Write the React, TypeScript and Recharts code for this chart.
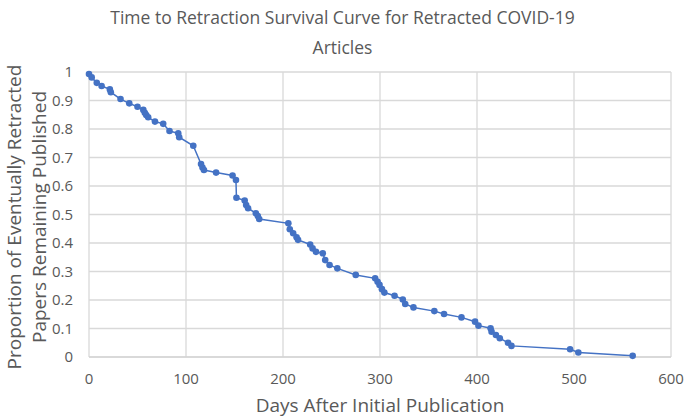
import React from 'react';
import { LineChart, Line, XAxis, YAxis, CartesianGrid } from 'recharts';

// days after publication at retraction
const days = [
  0, 2.8, 8, 13, 21.5, 22.5, 32.5, 41.5, 50, 56, 57.5, 59, 61, 68, 76.5, 83, 92, 93,
  107.5, 115.5, 117, 118.5, 131, 148, 151.5, 152, 160.5, 162, 164, 172, 174, 175.5,
  205.5, 207, 210.5, 214, 215.5, 228, 230.5, 234, 241, 243.5, 248, 256, 275,
  295, 297.5, 299.5, 302, 304.5, 315, 323.5, 326, 334.5, 356, 366, 384, 398, 401.5,
  414, 415, 419.5, 423.5, 432, 435.5, 496, 504.5, 560.5,
];

// proportion still published
const remaining = [
  0.993, 0.981, 0.962, 0.951, 0.939, 0.929, 0.905, 0.89, 0.878, 0.867, 0.857, 0.849, 0.841, 0.826, 0.818, 0.793, 0.785, 0.771,
  0.741, 0.677, 0.665, 0.656, 0.647, 0.637, 0.621, 0.559, 0.549, 0.533, 0.522, 0.504, 0.495, 0.484,
  0.469, 0.448, 0.434, 0.42, 0.411, 0.395, 0.381, 0.369, 0.364, 0.34, 0.323, 0.311, 0.288,
  0.276, 0.264, 0.253, 0.238, 0.226, 0.215, 0.202, 0.186, 0.174, 0.161, 0.151, 0.139, 0.124, 0.11,
  0.101, 0.089, 0.077, 0.066, 0.05, 0.039, 0.027, 0.016, 0.004,
];

const xTicks = [0, 100, 200, 300, 400, 500, 600];
const yTicks = [0, 0.1, 0.2, 0.3, 0.4, 0.5, 0.6, 0.7, 0.8, 0.9, 1];

const data = days.map((d, i) => ({ day: d, value: remaining[i] }));

const font = '"Open Sans", sans-serif';
const grey = '#595959';

const App: React.FC = () => {
  return (
    <div style={{ position: 'absolute', left: 0, top: 0, width: 685, height: 419, background: '#fff', fontFamily: font }}>
      <div style={{ position: 'absolute', top: 2, left: 0, width: 685, textAlign: 'center', color: grey, fontSize: 17.5, lineHeight: '30px' }}>
        Time to Retraction Survival Curve for Retracted COVID-19
        <br />
        Articles
      </div>
      <div
        style={{
          position: 'absolute', left: 27, top: 217, width: 0, height: 0,
        }}
      >
        <div
          style={{
            position: 'absolute', transform: 'translate(-50%, -50%) rotate(-90deg)', whiteSpace: 'nowrap',
            textAlign: 'center', color: grey, fontSize: 19, lineHeight: '25px',
          }}
        >
          Proportion of Eventually Retracted
          <br />
          Papers Remaining Published
        </div>
      </div>
      <div style={{ position: 'absolute', top: 392, left: 89, width: 582, textAlign: 'center', color: grey, fontSize: 19 }}>
        Days After Initial Publication
      </div>
      <LineChart width={685} height={419} data={data} margin={{ top: 72, right: 14, bottom: 0, left: 0 }}>
        <CartesianGrid stroke="#d9d9d9" strokeWidth={1.3} />
        <XAxis
          dataKey="day"
          type="number"
          domain={[0, 600]}
          ticks={xTicks}
          height={62}
          axisLine={{ stroke: '#d0d0d0' }}
          tickLine={false}
          tickMargin={10}
          tick={{ fill: grey, fontSize: 15, fontFamily: font }}
        />
        <YAxis
          type="number"
          domain={[0, 1]}
          ticks={yTicks}
          width={89}
          axisLine={false}
          tickLine={false}
          tickMargin={10}
          tick={{ fill: grey, fontSize: 15, fontFamily: font }}
        />
        <Line
          dataKey="value"
          stroke="#4472c4"
          strokeWidth={1.5}
          dot={{ r: 3.3, fill: '#4472c4', stroke: '#4472c4', strokeWidth: 0 }}
          isAnimationActive={false}
        />
      </LineChart>
    </div>
  );
};

export default App;
